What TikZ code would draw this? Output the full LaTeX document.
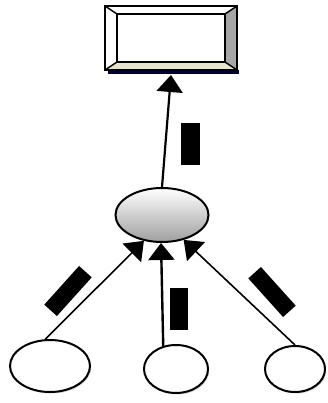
\documentclass[tikz,border=0pt]{standalone}
\usetikzlibrary{shapes.geometric,arrows.meta,shadows}
\begin{document}
\begin{tikzpicture}[x=1pt,y=-1pt,
  leaf/.style={ellipse,draw,line width=2pt,fill=white,inner sep=0pt,
    drop shadow={shadow xshift=1.2pt,shadow yshift=-1.5pt,opacity=0.35}},
  conn/.style={line width=1.6pt,-{Triangle[length=17pt,width=26pt]}},
  tag/.style={fill=black,inner sep=0pt,minimum width=17pt,minimum height=42pt}]
\useasboundingbox (0,0) rectangle (327,403);
% beveled box
\fill[black!70!blue!60!black] (108,70) rectangle (239,74);
\node[draw,line width=2pt,fill=white,minimum width=132pt,minimum height=64pt,inner sep=0pt] (box) at (171,38) {};
\fill[gray!70] (225,14) -- (237,6) -- (237,70) -- (225,62) -- cycle;
\fill[gray!25!white!90!yellow] (117,62) -- (225,62) -- (237,70) -- (105,70) -- cycle;
\draw[line width=1.8pt] (117,14) rectangle (225,62);
\draw[line width=1.5pt] (105,6) -- (117,14) (237,6) -- (225,14) (237,70) -- (225,62) (105,70) -- (117,62);
\draw[line width=2.2pt] (105,6) rectangle (237,70);
% middle ellipse
\node[ellipse,draw,line width=2pt,minimum width=93pt,minimum height=54pt,inner sep=0pt,
  shading=axis,top color=white,bottom color=gray!75] (mid) at (162,215) {};
% leaves
\node[leaf,minimum width=80pt,minimum height=52pt] (l1) at (50,366) {};
\node[leaf,minimum width=64pt,minimum height=48pt] (l2) at (176,369) {};
\node[leaf,minimum width=60pt,minimum height=46pt] (l3) at (295,369) {};
% connectors
\draw[conn,line width=2.2pt] (mid.north) -- ([yshift=-4pt]box.south);
\draw[conn] (l1.100) -- (mid.235);
\draw[conn,line width=2.4pt] (l2.119) -- (mid.268);
\draw[conn] (l3.north) -- (mid.311);
% tags
\node[tag,minimum width=19pt] (t0) at (190,144) {};
\node[tag,minimum width=17pt,minimum height=52pt,rotate=-42] (t1) at (68,291) {};
\node[tag,minimum width=18pt] (t2) at (179,309) {};
\node[tag,minimum width=17pt,minimum height=52pt,rotate=42] (t3) at (272,292) {};
\end{tikzpicture}
\end{document}
